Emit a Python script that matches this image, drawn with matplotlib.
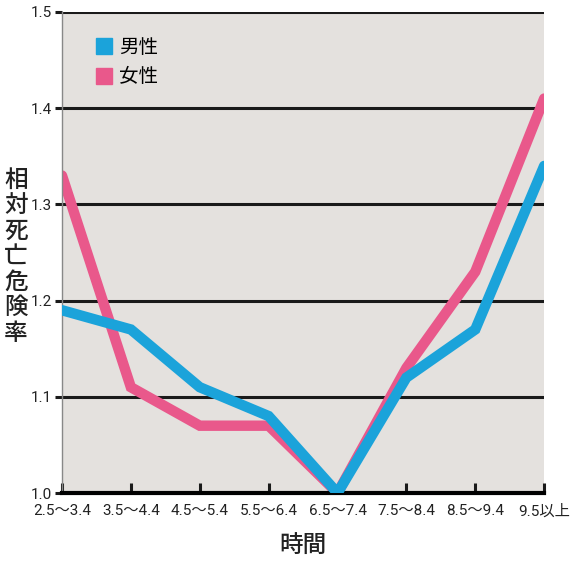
import matplotlib
matplotlib.use("Agg")
import matplotlib.pyplot as plt
from matplotlib.lines import Line2D

categories = ["2.5〜3.4", "3.5〜4.4", "4.5〜5.4", "5.5〜6.4", "6.5〜7.4", "7.5〜8.4", "8.5〜9.4", "9.5以上"]
male = [1.19, 1.17, 1.11, 1.08, 1.00, 1.12, 1.17, 1.34]
female = [1.33, 1.11, 1.07, 1.07, 1.00, 1.13, 1.23, 1.41]
yticks = [1.0, 1.1, 1.2, 1.3, 1.4, 1.5]
ylabel = "相対死亡危険率"

blue = "#1ba3da"
pink = "#e9588b"
cjk = ["Noto Sans CJK JP", "DejaVu Sans"]
ticks_font = ["Roboto", "Noto Sans CJK JP", "DejaVu Sans"]

plt.rcParams["font.family"] = cjk

fig = plt.figure(figsize=(5.74, 5.70), dpi=100)
ax = fig.add_axes([0.108, 0.135, 0.840, 0.844])
ax.set_facecolor("#e4e1de")

x = range(len(categories))
for y in yticks[1:]:
  ax.axhline(y, color="#1a1a1a", lw=2.2, zorder=1)

ax.plot(x, male, color=blue, lw=7.5, solid_capstyle="round", solid_joinstyle="miter", zorder=3)
ax.plot(x, female, color=pink, lw=7.5, solid_capstyle="round", solid_joinstyle="miter", zorder=2)

ax.set_xlim(0, len(categories) - 1)
ax.set_ylim(1.0, 1.5)
ax.set_xticks(list(x))
ax.set_xticklabels(categories, family=ticks_font, fontsize=11, color="#222222")
ax.set_yticks(yticks)
ax.set_yticklabels([f"{v:.1f}" for v in yticks], family=ticks_font, fontsize=11, color="#222222")
ax.tick_params(axis="x", direction="in", length=7, width=2.2, pad=8, color="#1a1a1a")
ax.tick_params(axis="y", direction="out", length=5, width=2.2, pad=2, color="#1a1a1a")

for s in ["top", "right"]:
  ax.spines[s].set_visible(False)
ax.spines["bottom"].set_linewidth(3)
ax.spines["left"].set_linewidth(1)
ax.spines["left"].set_color("#888888")

handles = [
  Line2D([], [], marker="s", ls="", color=blue, markersize=12),
  Line2D([], [], marker="s", ls="", color=pink, markersize=12),
]
ax.legend(handles, ["男性", "女性"], loc="upper left", bbox_to_anchor=(0.03, 0.985),
          frameon=False, fontsize=14, handletextpad=0.3, labelspacing=0.45, handlelength=1.0)

# stacked vertical label, one glyph per line
for i, ch in enumerate(ylabel):
  fig.text(16 / 574, 1 - (180 + i * 25.5) / 570, ch, fontsize=17, fontweight="medium",
           ha="center", va="center", color="#222222")
ax.set_xlabel("時間", fontsize=17, fontweight="medium", labelpad=12, color="#222222")

fig.savefig("out.png", dpi=100)
